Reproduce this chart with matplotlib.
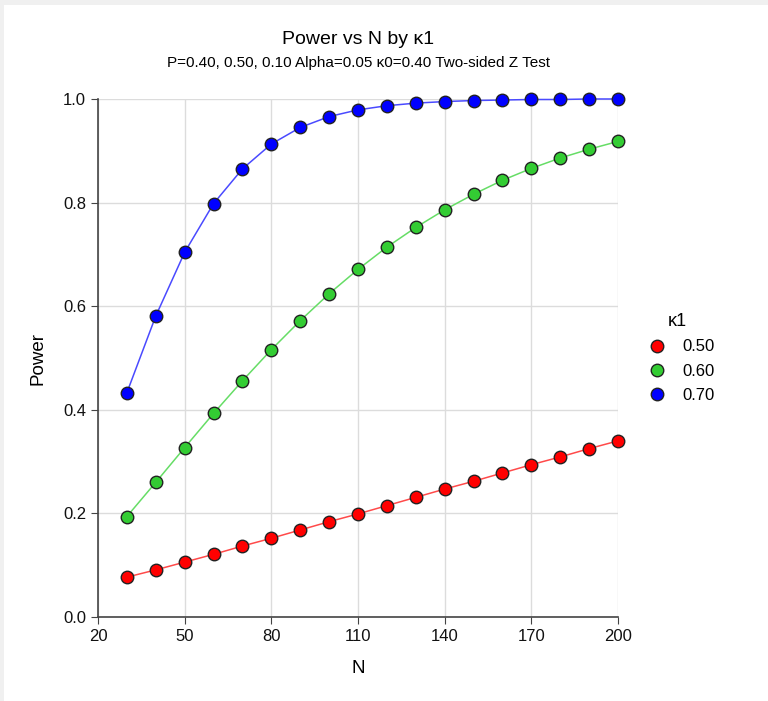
import matplotlib
matplotlib.use("Agg")
import matplotlib.pyplot as plt
from matplotlib.patches import Rectangle

plt.rcParams['font.family'] = ['Liberation Sans', 'DejaVu Sans']

# sample sizes
n_values = [30, 40, 50, 60, 70, 80, 90, 100, 110, 120, 130, 140, 150, 160, 170, 180, 190, 200]

# power for each kappa1
power_050 = [0.077, 0.091, 0.106, 0.121, 0.137, 0.152, 0.168, 0.184, 0.199, 0.215,
             0.231, 0.247, 0.262, 0.278, 0.294, 0.309, 0.325, 0.340]
power_060 = [0.194, 0.260, 0.327, 0.393, 0.456, 0.516, 0.572, 0.624, 0.671, 0.714,
             0.752, 0.786, 0.816, 0.843, 0.866, 0.886, 0.903, 0.918]
power_070 = [0.433, 0.581, 0.704, 0.798, 0.865, 0.913, 0.945, 0.966, 0.979, 0.987,
             0.992, 0.995, 0.997, 0.998, 0.999, 0.999, 1.000, 1.000]

labels = ['0.50', '0.60', '0.70']
x_ticks = [20, 50, 80, 110, 140, 170, 200]
y_ticks = [0.0, 0.2, 0.4, 0.6, 0.8, 1.0]

fig = plt.figure(figsize=(7.68, 7.01), dpi=100, facecolor='#f0f0f0')
# white panel inside the grey frame
fig.patches.append(Rectangle((4 / 768, 0), 1, 1 - 5 / 701, transform=fig.transFigure,
                             facecolor='white', edgecolor='none', zorder=-10))

ax = fig.add_axes([0.1276, 0.1198, 0.677, 0.739])
ax.set_zorder(5)
ax.set_facecolor('white')

series = [power_050, power_060, power_070]
line_colors = ['#ff4a4a', '#66dd66', '#4a4aff']
fill_colors = ['#ff0000', '#33cc33', '#0000ff']

for vals, lc, fc, lab in zip(series, line_colors, fill_colors, labels):
    ax.plot(n_values, vals, color=lc, linewidth=1.1, zorder=3, clip_on=False)
    ax.plot(n_values, vals, linestyle='none', marker='o', markersize=9,
            markerfacecolor=fc, markeredgecolor='#222222', markeredgewidth=1,
            zorder=4, clip_on=False, label=lab)

ax.set_xlim(20, 200)
ax.set_ylim(0, 1.0)
ax.set_xticks(x_ticks)
ax.set_yticks(y_ticks)
ax.set_yticklabels(['{:.1f}'.format(v) for v in y_ticks])
ax.tick_params(labelsize=12, length=5, color='#444444', labelcolor='#111111')
ax.grid(True, color='#dcdcdc', linewidth=1, zorder=0)
ax.set_axisbelow(True)
for s in ['top', 'right']:
    ax.spines[s].set_visible(False)
for s in ['left', 'bottom']:
    ax.spines[s].set_color('#444444')
    ax.spines[s].set_linewidth(1.2)

ax.set_xlabel('N', fontsize=13.5, labelpad=12)
ax.set_ylabel('Power', fontsize=13.5, labelpad=12)

fig.text(0.5 * (0.1276 + 0.8047), 1 - 40 / 701, 'Power vs N by κ1', ha='center',
         va='center', fontsize=14)
fig.text(0.5 * (0.1276 + 0.8047), 1 - 63 / 701,
         'P=0.40, 0.50, 0.10 Alpha=0.05 κ0=0.40 Two-sided Z Test',
         ha='center', va='center', fontsize=11)

leg = ax.legend(title='κ1', loc='center left', bbox_to_anchor=(1.015, 0.5),
                frameon=False, fontsize=12, title_fontsize=13,
                handletextpad=0.5, labelspacing=0.55)

fig.savefig('out.png', dpi=100, facecolor=fig.get_facecolor())
